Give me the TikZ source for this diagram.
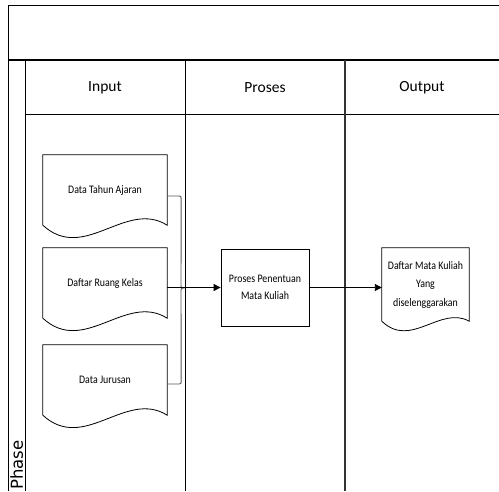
\documentclass[tikz,border=0pt]{standalone}
\usepackage{fontspec}
\setmainfont{Carlito}
\newfontfamily\boxfont[FakeStretch=0.86]{Carlito}
\newfontfamily\phasefont{DejaVu Sans}
\usetikzlibrary{calc}
\usetikzlibrary{arrows.meta}

\begin{document}
\begin{tikzpicture}[x=1pt, y=-1pt]
      \tikzstyle{lane}=[line width=.9pt, black];
      \tikzstyle{head}=[font=\fontsize{15.5}{18}\selectfont];
      \tikzstyle{doc}=[draw=none, inner sep=0pt, align=center, font=\boxfont\fontsize{11.5}{18.5}\selectfont];
      \tikzstyle{docline}=[line width=.8pt, black];
      \tikzstyle{proc}=[draw, line width=.8pt, inner sep=0pt, align=center, minimum width=88pt, minimum height=77pt, font=\boxfont\fontsize{11.5}{17}\selectfont];
      \tikzstyle{bracket}=[line width=.9pt, black!65];
      \tikzstyle{flow}=[line width=.9pt, -{Triangle[length=7pt, width=7pt]}];

      \useasboundingbox (0,0) rectangle (499,491);

      % pool and lanes
      \draw[lane] (499,5) -- (8,5) -- (8,491);
      \draw[lane, line width=1.2pt] (8,60) -- (499,60);
      \draw[lane] (25,60) -- (25,491);
      \draw[lane] (25,114) -- (499,114);
      \draw[lane] (185,60) -- (185,491);
      \draw[lane, line width=1.1pt, black!80] (345,60) -- (345,491);

      \node[head] (hin) at (105,88) {Input};
      \node[head] (hproc) at (265,88) {Proses};
      \node[head] (hout) at (422,88) {Output};
      \node[rotate=90, anchor=base west, inner sep=0pt, font=\phasefont\fontsize{16.5}{17}\selectfont] (phase) at (23,490) {Phase};

      % documents and process
      \node[doc, minimum width=124pt, minimum height=70pt] (d1) at (105,190) {Data Tahun Ajaran};
      \node[doc, minimum width=124pt, minimum height=70pt] (d2) at (105,283) {Daftar Ruang Kelas};
      \node[doc, minimum width=124pt, minimum height=70pt] (d3) at (105,380) {Data Jurusan};
      \node[proc] (pk) at (265,287.5) {Proses Penentuan\\Mata Kuliah};
      \node[doc, minimum width=87pt, minimum height=73pt] (out) at (425.5,284.5) {Daftar Mata Kuliah\\Yang\\diselenggarakan};

      \foreach \n/\a/\b in {d1/38/26, d2/38/26, d3/38/26, out/28/16}
        \draw[docline] (\n.south west) -- (\n.north west) -- (\n.north east) -- (\n.south east)
          .. controls ($(\n.south east)!1/3!(\n.south west)+(0,-\b)$) and ($(\n.south west)!1/3!(\n.south east)+(0,\a)$) .. cycle;

      % brace
      \coordinate (bt) at ($(d1.east)+(0,6)$);
      \coordinate (bb) at ($(d3.east)+(0,4)$);
      \coordinate (tip) at (185,288);
      \draw[bracket] (bt) -- ($(bt)+(10,0)$) .. controls ($(bt)+(14,0)$) .. ($(bt)+(14,4)$)
        -- ($(tip)+(-4,-4)$) .. controls ($(tip)+(-4,0)$) .. (tip)
        .. controls ($(tip)+(-4,0)$) .. ($(tip)+(-4,4)$)
        -- ($(bb)+(14,-4)$) .. controls ($(bb)+(14,0)$) .. ($(bb)+(10,0)$) -- (bb);

      % flows
      \draw[flow] (pk.west -| d2.east) -- (pk.west);
      \draw[flow] (pk.east) -- (pk.east -| out.west);
    \end{tikzpicture}
\end{document}
